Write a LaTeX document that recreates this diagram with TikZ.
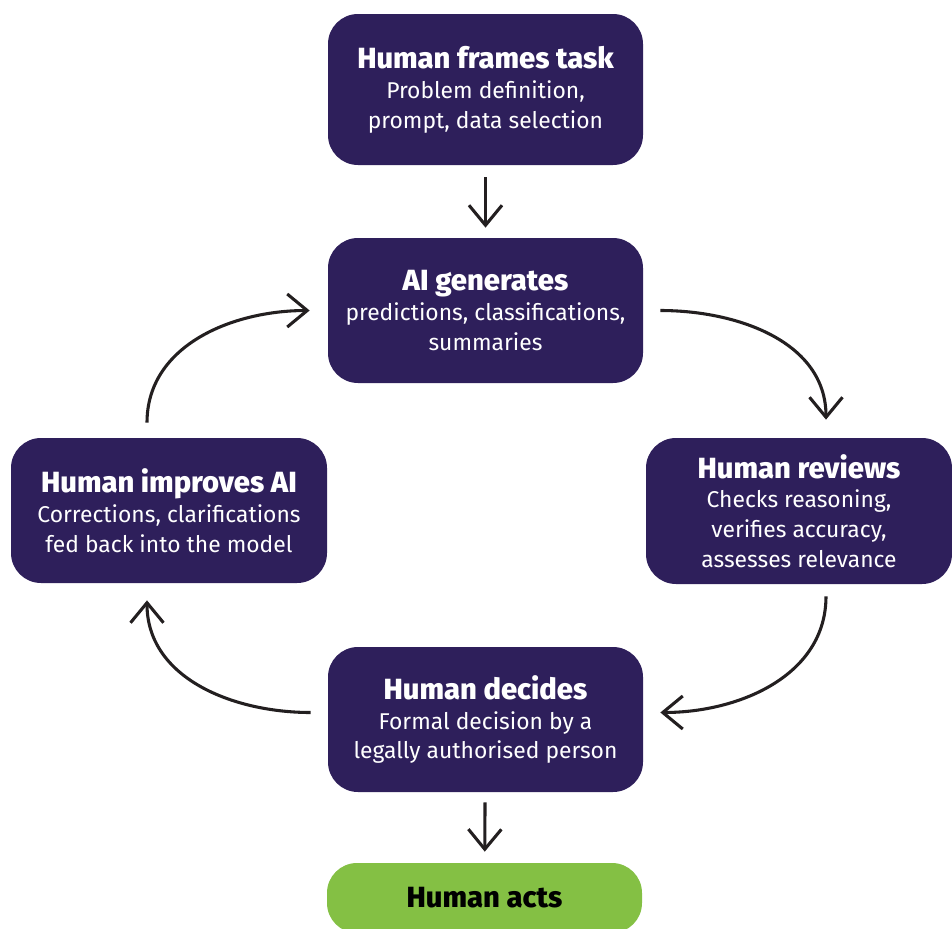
\documentclass[tikz,border=0pt]{standalone}
\usepackage{fontspec}
\setmainfont{Fira Sans}
\newfontfamily\titlefont{Fira Sans ExtraBold}
\usetikzlibrary{arrows.meta}

\definecolor{stagepurple}{HTML}{2E1F5B}
\definecolor{actgreen}{HTML}{84C044}
\definecolor{arrowink}{HTML}{231F20}

\newcommand{\stagetitle}[1]{{\titlefont\fontsize{16.6}{17}\selectfont #1}}

\begin{document}
\begin{tikzpicture}[
    stage/.style={fill=stagepurple, text=white, rounded corners=0.6cm,
      minimum width=6.3cm, minimum height=2.9cm, inner sep=0pt, align=center,
      font=\fontsize{13}{17}\selectfont},
    outcome/.style={fill=actgreen, text=black, rounded corners=0.6cm,
      minimum width=6.3cm, minimum height=1.4cm, inner sep=0pt,
      font=\titlefont\fontsize{16.6}{17}\selectfont},
    flow/.style={draw=arrowink, line width=1.75pt,
      -{Straight Barb[length=0.4cm, width=0.66cm]}}
  ]
        % Fix the page size
        \useasboundingbox (0, 0) rectangle (19.04, -18.58);

        % Draw the stages of the loop
        \node[stage, minimum height=3.02cm] (frames) at (9.71, -1.79)
          {\stagetitle{Human frames task}\\Problem definition,\\prompt, data selection};
        \node[stage] (generates) at (9.71, -6.21)
          {\stagetitle{AI generates}\\predictions, classifications,\\summaries};
        \node[stage, minimum width=6.12cm, minimum height=2.92cm] (reviews) at (15.98, -10.22)
          {\stagetitle{Human reviews}\\Checks reasoning,\\verifies accuracy,\\assesses relevance};
        \node[stage, minimum width=6.32cm] (improves) at (3.38, -10.21)
          {\stagetitle{Human improves AI}\\Corrections, clarifications\\fed back into the model};
        \node[stage] (decides) at (9.71, -14.39)
          {\stagetitle{Human decides}\\Formal decision by a\\legally authorised person};

        % Draw the final action
        \node[outcome] (acts) at (9.69, -17.96) {Human acts};

        % Draw straight arrows
        \draw[flow, shorten <=0.24cm, shorten >=0.2cm] (frames) -- (generates);
        \draw[flow, shorten <=0.2cm, shorten >=0.22cm] (decides) -- (acts);

        % Draw the curved arrows of the loop
        \draw[flow] ([xshift=0.34cm]generates.east) to[out=0, in=90]
          ([shift={(0.54cm, 0.36cm)}]reviews.north);
        \draw[flow] ([shift={(0.54cm, -0.24cm)}]reviews.south) to[out=-90, in=0]
          ([shift={(0.34cm, 0.14cm)}]decides.east);
        \draw[flow] ([shift={(-0.34cm, 0.14cm)}]decides.west) to[out=180, in=-90]
          ([shift={(-0.44cm, -0.34cm)}]improves.south);
        \draw[flow] ([shift={(-0.44cm, 0.3cm)}]improves.north) to[out=90, in=180]
          ([xshift=-0.36cm]generates.west);
      \end{tikzpicture}
\end{document}
